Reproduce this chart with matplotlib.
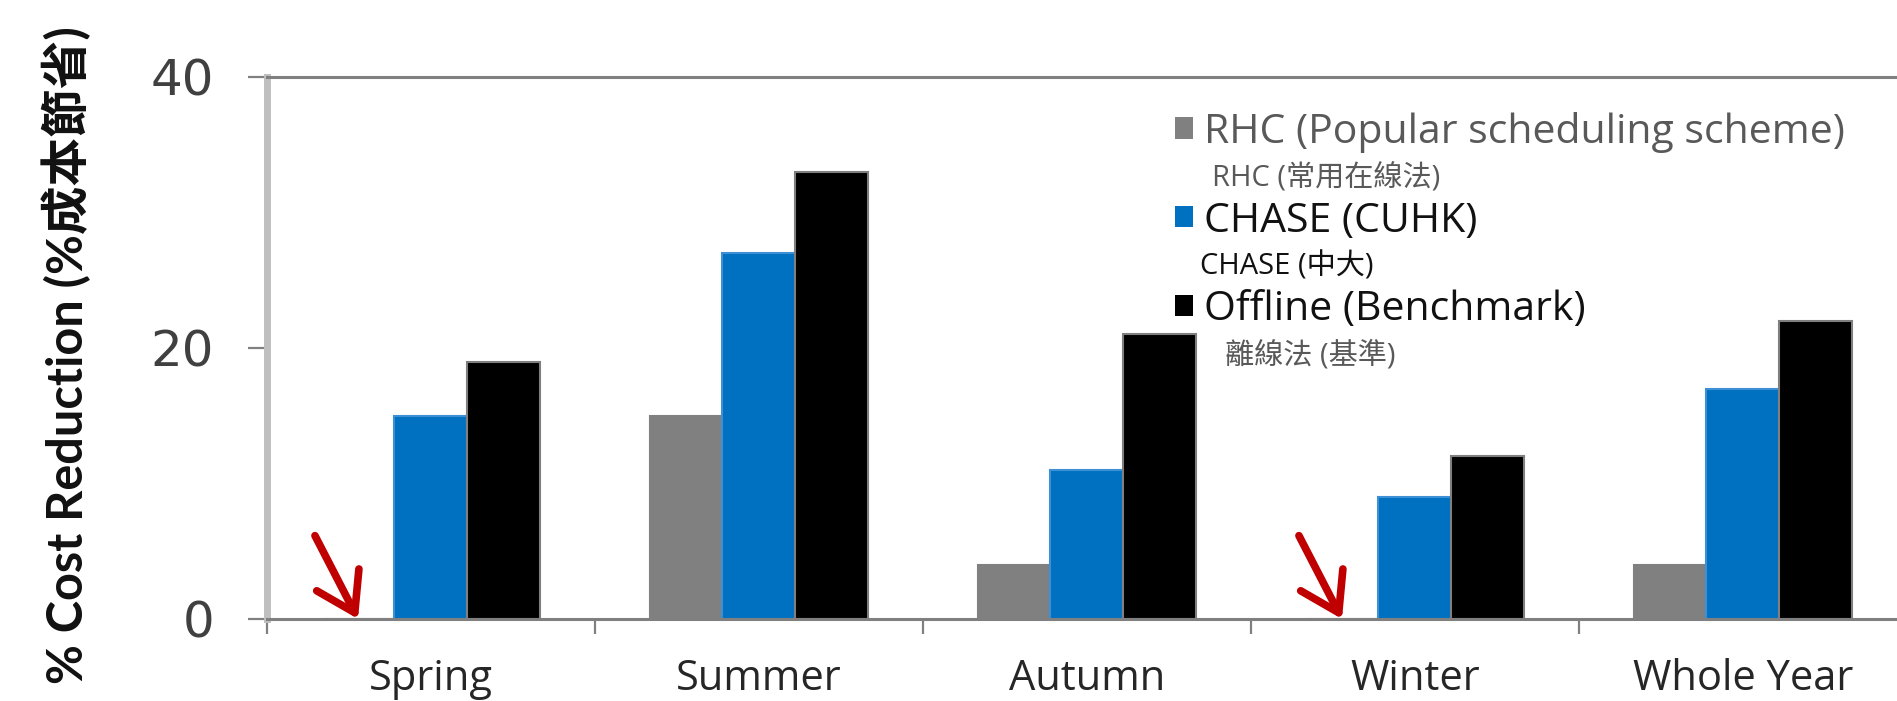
import matplotlib
matplotlib.use("Agg")
import matplotlib.pyplot as plt
from matplotlib.patches import Patch
from matplotlib.transforms import IdentityTransform
import numpy as np

# Data
seasons = ["Spring", "Summer", "Autumn", "Winter", "Whole Year"]
rhc = [0, 15, 4, 0, 4]
chase = [15, 27, 11, 9, 17]
offline = [19, 33, 21, 12, 22]

series_names = ["RHC (Popular scheduling scheme)", "CHASE (CUHK)", "Offline (Benchmark)"]
series_sub = ["RHC (常用在線法)", "CHASE (中大)", "離線法 (基準)"]
series_colors = ["#808080", "#0070C0", "#000000"]
series_edges = ["#808080", "#3d8fd6", "#7f7f7f"]
yticks = [0, 20, 40]

plt.rcParams['font.family'] = ['Open Sans', 'Noto Sans CJK TC', 'DejaVu Sans']

fig = plt.figure(figsize=(18.97, 7.01), dpi=100)
ax = fig.add_axes([0.1407, 0.117, 0.8645, 0.7732])

x = np.arange(len(seasons))
bw = 1 / 4.5
for i, (vals, col, ec) in enumerate(zip([rhc, chase, offline], series_colors, series_edges)):
    ax.bar(x + (i - 1) * bw, vals, width=bw, color=col, edgecolor=ec,
           linewidth=1.5, zorder=2)

ax.set_xlim(-0.5, len(seasons) - 0.5)
ax.set_ylim(0, 40)

# Spines
ax.spines["right"].set_visible(False)
ax.spines["left"].set_color("#bfbfbf")
ax.spines["left"].set_linewidth(5)
ax.spines["bottom"].set_color("#808080")
ax.spines["bottom"].set_linewidth(2.2)
ax.spines["top"].set_color("#808080")
ax.spines["top"].set_linewidth(2.2)

# Y axis ticks
ax.set_yticks(yticks)
ax.set_yticklabels([str(v) for v in yticks], family="DejaVu Sans", fontsize=36, color="#404040")
ax.tick_params(axis="y", direction="out", length=14, width=1.6, color="#808080", pad=24)

# X axis: labels at centres, tick marks at category boundaries
ax.set_xticks(x)
ax.set_xticklabels(seasons, fontsize=30, color="#262626")
ax.tick_params(axis="x", which="major", length=0, pad=28)
ax.set_xticks(np.arange(len(seasons) + 1) - 0.5, minor=True)
ax.tick_params(axis="x", which="minor", direction="out", length=11, width=1.6, color="#808080")

ylab = ax.set_ylabel("% Cost Reduction (%成本節省)", fontsize=35, fontweight="bold",
                     family=['Liberation Sans Narrow', 'Lato', 'Noto Sans CJK TC'],
                     color="#111111")
ylab.set_va("center")
ax.yaxis.set_label_coords(-0.1226, 0.487)

# Arrows marking zero RHC savings
for xi, v in zip(x, rhc):
    if v == 0:
        ax.annotate("", xy=(xi - bw, v), xycoords="data",
                    xytext=(-31, 60), textcoords="offset points",
                    arrowprops=dict(arrowstyle="->, head_length=0.7, head_width=0.45",
                                    mutation_scale=38, lw=5.5, color="#C00000",
                                    shrinkA=0, shrinkB=0),
                    zorder=5)

# Legend
handles = [Patch(facecolor=c, edgecolor="none") for c in series_colors]
leg = ax.legend(handles, series_names, loc="upper left", bbox_to_anchor=(0.554, 0.936),
                frameon=False, fontsize=29.5, handlelength=0.42, handleheight=0.42,
                handletextpad=0.28, labelspacing=1.18, borderpad=0, borderaxespad=0)
text_colors = ["#595959", "#111111", "#111111"]
for t, c in zip(leg.get_texts(), text_colors):
    t.set_color(c)

# Chinese sub-labels under each legend entry
fig.canvas.draw()
sub_colors = ["#595959", "#111111", "#595959"]
sub_dx = [8, -4, 21]
for t, sub, c, dx in zip(leg.get_texts(), series_sub, sub_colors, sub_dx):
    bb = t.get_window_extent()
    yc = 0.5 * (bb.y0 + bb.y1)
    fig.text(bb.x0 + dx, yc - 46, sub, transform=IdentityTransform(),
             ha="left", va="center", fontsize=21, color=c)

fig.savefig("out.png", dpi=100)
